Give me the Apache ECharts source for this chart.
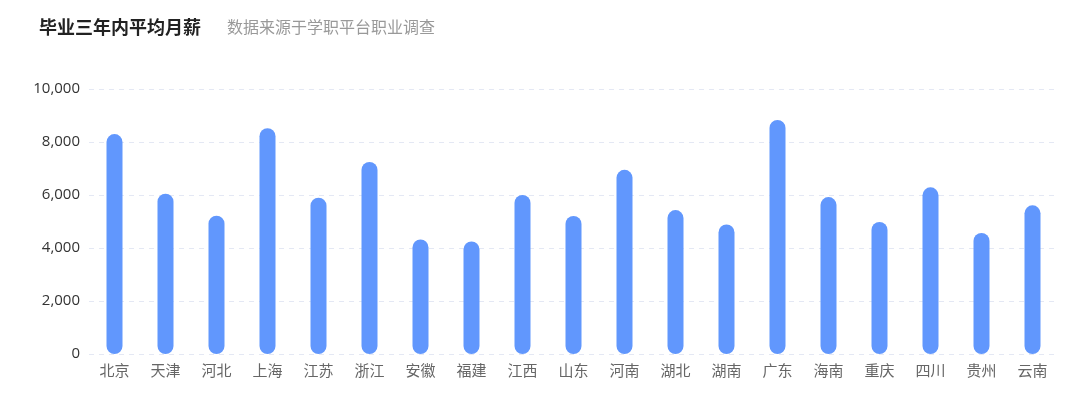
<!DOCTYPE html>
<html>
<head>
<meta charset="utf-8">
<script src="https://cdn.jsdelivr.net/npm/echarts@6/dist/echarts.min.js"></script>
<style>html,body{margin:0;padding:0;background:#fff;}#c{width:1080px;height:406px;}</style>
</head>
<body>
<div id="c"></div>
<script>
const categories = ['北京','天津','河北','上海','江苏','浙江','安徽','福建','江西','山东','河南','湖北','湖南','广东','海南','重庆','四川','贵州','云南'];
const salaries = [8300, 6050, 5220, 8520, 5900, 7250, 4320, 4250, 6000, 5210, 6950, 5430, 4890, 8830, 5920, 4980, 6290, 4570, 5610];
const yTicks = { min: 0, max: 10000, interval: 2000 };

const chart = echarts.init(document.getElementById('c'));
chart.setOption({
  animation: false,
  title: [
    { text: '毕业三年内平均月薪', left: 34, top: 13,
      textStyle: { fontSize: 18, fontWeight: 'bold', color: '#222', fontFamily: 'Noto Sans CJK SC' } },
    { text: '数据来源于学职平台职业调查', left: 222, top: 14,
      textStyle: { fontSize: 16, fontWeight: 'normal', color: '#999', fontFamily: 'Noto Sans CJK SC' } }
  ],
  grid: { left: 89, right: 22, top: 89, bottom: 52, containLabel: false },
  xAxis: {
    type: 'category',
    data: categories,
    axisLine: { show: false },
    axisTick: { show: false },
    axisLabel: { color: '#666', fontSize: 15, margin: 9, fontFamily: 'Noto Sans CJK SC' }
  },
  yAxis: {
    type: 'value',
    min: yTicks.min, max: yTicks.max, interval: yTicks.interval,
    axisLine: { show: false },
    axisTick: { show: false },
    axisLabel: { color: '#333', fontSize: 15, margin: 9, fontFamily: 'Open Sans',
      formatter: v => v.toLocaleString('en-US') },
    splitLine: { lineStyle: { type: [5, 5], color: '#e4e8f4', width: 1 } }
  },
  series: [{
    type: 'bar',
    data: salaries,
    barWidth: 16,
    itemStyle: { color: '#6197fd', borderRadius: 8 }
  }]
});
</script>
</body>
</html>
